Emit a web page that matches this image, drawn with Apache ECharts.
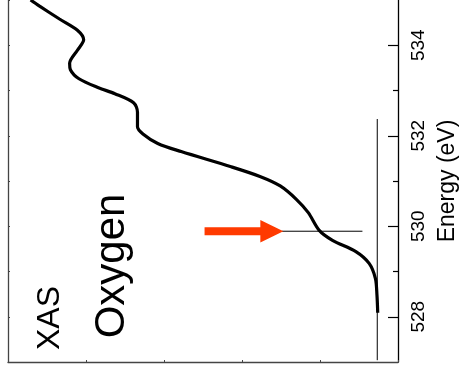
<!DOCTYPE html>
<html>
<head>
<meta charset="utf-8">
<script src="https://cdn.jsdelivr.net/npm/echarts@6/dist/echarts.min.js"></script>
<style>
html,body{margin:0;padding:0;background:#fff;}
#chart{width:467px;height:379px;}
</style>
</head>
<body>
<div id="chart"></div>
<script>
// Energy (eV) and XAS intensity (arb. units)
const energy = [528.09, 528.49, 528.85, 529.18, 529.44, 529.69, 529.91, 530.30, 530.59, 530.89, 531.10, 531.32, 531.65, 531.83, 532.04, 532.20, 532.52, 532.73, 532.93, 533.06, 533.26, 533.46, 533.60, 533.89, 534.12, 534.33, 534.58, 534.87, 535.00];
const intensity = [0.26, 0.27, 0.29, 0.37, 0.54, 0.84, 1.01, 1.15, 1.30, 1.51, 1.77, 2.15, 2.78, 3.08, 3.27, 3.34, 3.34, 3.39, 3.63, 3.84, 4.09, 4.20, 4.21, 4.11, 4.03, 4.11, 4.34, 4.60, 4.71];
const majorTicks = [528, 530, 532, 534];
const minorTicks = [529, 531, 533];
const baselineI = [0.266, 0.266];
const baselineE = [527.04, 532.37];
const markerI = [1.49, 0.456];
const markerE = [529.89, 529.89];
const arrowI = [2.48, 1.47];   // tail, tip
const arrowE = [529.89, 529.89];

const FONT = '"Liberation Sans", Arial, sans-serif';
const pair = (xs, ys) => xs.map((v, i) => [v, ys[i]]);

const chart = echarts.init(document.getElementById('chart'), null, {renderer: 'canvas'});
chart.setOption({
  animation: false,
  backgroundColor: '#fff',
  grid: {left: 8, right: 64, top: -6, bottom: 17, containLabel: false},
  xAxis: {
    type: 'value', min: 0, max: 5, interval: 1, inverse: true,
    axisLine: {show: true, onZero: false, lineStyle: {color: '#444', width: 1.3}},
    axisTick: {show: true, inside: true, length: 2, lineStyle: {color: '#444'}},
    axisLabel: {show: false},
    splitLine: {show: false}
  },
  yAxis: [{
    type: 'value', position: 'right', min: 527, max: 535, interval: 1,
    name: 'Energy (eV)', nameLocation: 'middle', nameRotate: 90, nameGap: 38,
    nameTextStyle: {fontFamily: FONT, fontSize: 23, color: '#000'},
    axisLine: {show: true, onZero: false, lineStyle: {color: '#000', width: 1.3}},
    axisTick: {show: true, inside: true, length: 10, customValues: majorTicks, lineStyle: {color: '#000', width: 1.2}},
    axisLabel: {show: true, rotate: 90, margin: 11, customValues: majorTicks, fontFamily: FONT, fontSize: 19, color: '#000'},
    splitLine: {show: false}
  }, {
    type: 'value', position: 'right', min: 527, max: 535, interval: 1,
    axisLine: {show: false},
    axisTick: {show: true, inside: true, length: 5, customValues: minorTicks, lineStyle: {color: '#000', width: 1.2}},
    axisLabel: {show: false},
    splitLine: {show: false}
  }, {
    type: 'value', position: 'left', min: 527, max: 535, interval: 1,
    axisLine: {show: true, onZero: false, lineStyle: {color: '#444', width: 1.3}},
    axisTick: {show: true, inside: true, length: 2, lineStyle: {color: '#444'}},
    axisLabel: {show: false},
    splitLine: {show: false}
  }],
  series: [{
    type: 'line', data: pair(baselineI, baselineE), symbol: 'none',
    lineStyle: {color: '#000', width: 1}, z: 2
  }, {
    type: 'line', data: pair(markerI, markerE), symbol: 'none',
    lineStyle: {color: '#000', width: 1}, z: 2
  }, {
    type: 'line', data: pair(intensity, energy), symbol: 'none', smooth: 0.3,
    lineStyle: {color: '#000', width: 3.2}, z: 3
  }, {
    type: 'custom', z: 4,
    data: [[arrowI[0], arrowE[0], arrowI[1], arrowE[1]]],
    renderItem: function (params, api) {
      const tail = api.coord([api.value(0), api.value(1)]);
      const tip = api.coord([api.value(2), api.value(3)]);
      const headLen = 23, headHalf = 11.3, shaftHalf = 3.9;
      const hx = tip[0] - headLen;
      const y = tip[1];
      return {
        type: 'polygon',
        shape: {points: [
          [tail[0], y - shaftHalf], [hx, y - shaftHalf], [hx, y - headHalf], [tip[0], y],
          [hx, y + headHalf], [hx, y + shaftHalf], [tail[0], y + shaftHalf]
        ]},
        style: {fill: '#ff3a00'}
      };
    }
  }],
  graphic: [{
    type: 'text', x: 50, y: 318, rotation: Math.PI / 2,
    style: {text: 'XAS', font: '32px ' + FONT, fill: '#000', align: 'center', verticalAlign: 'middle'}
  }, {
    type: 'text', x: 112, y: 266, rotation: Math.PI / 2,
    style: {text: 'Oxygen', font: '42px ' + FONT, fill: '#000', align: 'center', verticalAlign: 'middle'}
  }]
});
</script>
</body>
</html>
